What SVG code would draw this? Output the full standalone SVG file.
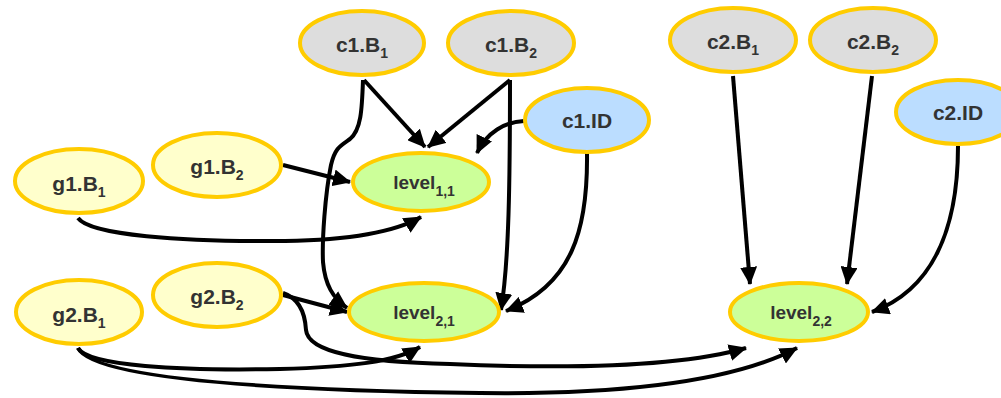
<svg xmlns="http://www.w3.org/2000/svg" width="1001" height="398" viewBox="0 0 1001 398">
  <style>
    .node ellipse { stroke: #FFCC00; stroke-width: 4; }
    .gray ellipse { fill: #DDDDDD; }
    .yellow ellipse { fill: #FFFFCC; }
    .blue ellipse { fill: #BBDDFF; }
    .green ellipse { fill: #CCFF99; }
    .node text { font-family: "Liberation Sans", Arial, sans-serif; font-weight: bold; font-size: 21px; fill: #333333; text-anchor: middle; }
    .node text.lvl { font-size: 19px; }
    .node tspan.sub { font-size: 14px; }
    #edges path { fill: none; stroke: #000000; stroke-width: 4; marker-end: url(#arrow); }
  </style>
  <defs>
    <marker id="arrow" markerUnits="userSpaceOnUse" markerWidth="18" markerHeight="17" viewBox="0 0 18 17" refX="17" refY="8.5" orient="auto">
      <path d="M0,0 L18,8.5 L0,17 z" fill="#000000"/>
    </marker>
  </defs>

  <rect width="1001" height="398" fill="#FFFFFF"/>

  <!-- connectors -->
  <g id="edges">
    <path d="M364,80 L425,147"/>
    <path d="M510,80 L428,147"/>
    <path d="M363,80 C362,110 361,130 350,139 C340,146 335,148 331,165 C325,195 322,240 323,262 C325,285 333,298 347,308"/>
    <path d="M510,80 C510,180 509,262 501,310"/>
    <path d="M524,121 C505,122 487,132 477,153"/>
    <path d="M587,153 C588,230 572,285 506,311"/>
    <path d="M283,165 L350,182"/>
    <path d="M78,218 C90,235 180,242 285,241 C350,240 395,232 421,217"/>
    <path d="M283,295 L347,312"/>
    <path d="M283,293 C298,298 305,312 306,330 C308,352 360,362 450,364 C590,370 690,364 746,348"/>
    <path d="M78,348 C88,366 180,371 280,369 C350,367 395,362 420,347"/>
    <path d="M78,348 C92,377 250,390 480,393 C640,395 740,378 797,348"/>
    <path d="M733,76 L750,284"/>
    <path d="M872,76 L847,284"/>
    <path d="M958,146 C958,230 932,290 872,312"/>
  </g>

  <!-- nodes -->
  <g id="c1B1" class="node gray">
    <ellipse cx="362" cy="43" rx="62" ry="32"/>
    <text x="362" y="52">c1.B<tspan class="sub" dy="6">1</tspan></text>
  </g>
  <g id="c1B2" class="node gray">
    <ellipse cx="511" cy="43" rx="63" ry="32"/>
    <text x="511" y="52">c1.B<tspan class="sub" dy="6">2</tspan></text>
  </g>
  <g id="c1ID" class="node blue">
    <ellipse cx="587" cy="120" rx="62" ry="32"/>
    <text x="587" y="128">c1.ID</text>
  </g>
  <g id="c2B1" class="node gray">
    <ellipse cx="733" cy="40" rx="63" ry="32"/>
    <text x="733" y="49">c2.B<tspan class="sub" dy="6">1</tspan></text>
  </g>
  <g id="c2B2" class="node gray">
    <ellipse cx="873" cy="40" rx="63" ry="32"/>
    <text x="873" y="49">c2.B<tspan class="sub" dy="6">2</tspan></text>
  </g>
  <g id="c2ID" class="node blue">
    <ellipse cx="958" cy="112" rx="62" ry="32"/>
    <text x="958" y="120">c2.ID</text>
  </g>
  <g id="g1B1" class="node yellow">
    <ellipse cx="79" cy="181" rx="64" ry="32"/>
    <text x="79" y="191">g1.B<tspan class="sub" dy="6">1</tspan></text>
  </g>
  <g id="g1B2" class="node yellow">
    <ellipse cx="217" cy="165" rx="64" ry="32"/>
    <text x="217" y="174">g1.B<tspan class="sub" dy="6">2</tspan></text>
  </g>
  <g id="g2B1" class="node yellow">
    <ellipse cx="79" cy="312" rx="63" ry="32"/>
    <text x="79" y="322">g2.B<tspan class="sub" dy="6">1</tspan></text>
  </g>
  <g id="g2B2" class="node yellow">
    <ellipse cx="217" cy="295" rx="64" ry="32"/>
    <text x="217" y="304">g2.B<tspan class="sub" dy="6">2</tspan></text>
  </g>
  <g id="level11" class="node green">
    <ellipse cx="421" cy="182" rx="68" ry="29"/>
    <text class="lvl" x="424" y="189">level<tspan class="sub" dy="7">1,1</tspan></text>
  </g>
  <g id="level21" class="node green">
    <ellipse cx="424" cy="312" rx="75" ry="29"/>
    <text class="lvl" x="424" y="319">level<tspan class="sub" dy="7">2,1</tspan></text>
  </g>
  <g id="level22" class="node green">
    <ellipse cx="799" cy="312" rx="69" ry="29"/>
    <text class="lvl" x="801" y="319">level<tspan class="sub" dy="7">2,2</tspan></text>
  </g>
</svg>
